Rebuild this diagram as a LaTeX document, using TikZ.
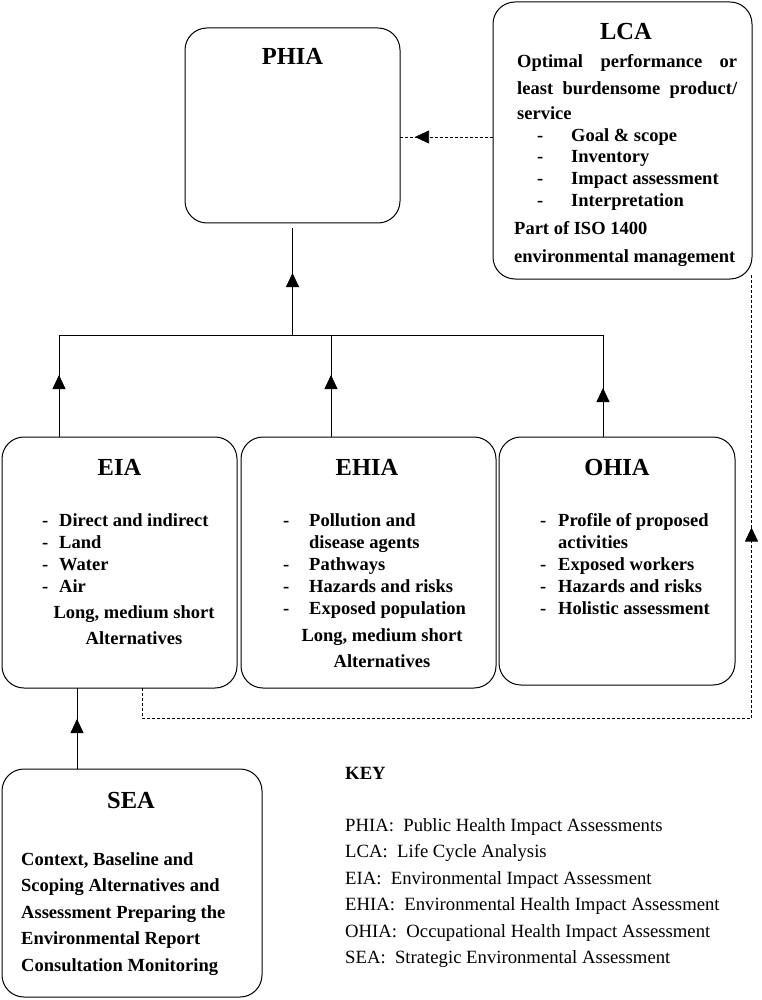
\documentclass[tikz,border=0pt]{standalone}
\usepackage{fontspec}
\setmainfont{Liberation Serif}
\usetikzlibrary{arrows.meta,decorations.markings}
\tikzset{
  box/.style={draw, line width=1pt, rounded corners=22pt, inner sep=0pt, outer sep=0pt},
  conn/.style={line width=0.8pt},
  dconn/.style={line width=0.7pt, dash pattern=on 3pt off 2pt},
  midarr/.style={postaction={decorate}, decoration={markings, mark=at position #1 with {\arrow{Triangle[width=13pt,length=14pt]}}}},
  bt/.style={font=\fontsize{18.5}{22}\selectfont\bfseries, inner sep=0pt, anchor=base west},
  btc/.style={font=\fontsize{18.5}{22}\selectfont\bfseries, inner sep=0pt, anchor=base},
  ttl/.style={font=\fontsize{24.5}{28}\selectfont\bfseries, inner sep=0pt, anchor=base},
  kt/.style={font=\fontsize{18.7}{22}\selectfont, inner sep=0pt, anchor=base west},
}
\begin{document}
\begin{tikzpicture}[x=1pt,y=-1pt]
\useasboundingbox (0,0) rectangle (761,1000);
% boxes
\node[box, minimum width=215pt, minimum height=195pt] (phia) at (292.5,125.5) {};
\node[box, minimum width=259pt, minimum height=277pt] (lca) at (622.5,140.5) {};
\node[box, minimum width=235pt, minimum height=251pt] (eia) at (119.5,562.5) {};
\node[box, minimum width=255pt, minimum height=251pt] (ehia) at (368.5,562.5) {};
\node[box, minimum width=236pt, minimum height=248pt] (ohia) at (617,561) {};
\node[box, minimum width=260pt, minimum height=228pt] (sea) at (132,883) {};
% PHIA
\node[ttl] (phiat) at (292.5,65) {PHIA};
% LCA
\node[ttl] (lcat) at (626,40) {LCA};
\node[bt] (lca1) at (517,68) {\makebox[220pt][s]{Optimal\hfill performance\hfill or}};
\node[bt] (lca2) at (517,95) {\makebox[220pt][s]{least\hfill burdensome\hfill product/}};
\node[bt] (lca3) at (517,120) {service};
\node[bt] (lcad1) at (537,142) {-};
\node[bt] (lcai1) at (571,142) {Goal \& scope};
\node[bt] (lcad2) at (537,163) {-};
\node[bt] (lcai2) at (571,163) {Inventory};
\node[bt] (lcad3) at (537,185) {-};
\node[bt] (lcai3) at (571,185) {Impact assessment};
\node[bt] (lcad4) at (537,207) {-};
\node[bt] (lcai4) at (571,207) {Interpretation};
\node[bt] (lca4) at (514,235) {Part of ISO 1400};
\node[bt] (lca5) at (514,262) {environmental management};
% EIA
\node[ttl] (eiat) at (119.5,475) {EIA};
\node[bt] (eiad1) at (42,526) {-};
\node[bt] (eiai1) at (59,526) {Direct and indirect};
\node[bt] (eiad2) at (42,548) {-};
\node[bt] (eiai2) at (59,548) {Land};
\node[bt] (eiad3) at (42,570) {-};
\node[bt] (eiai3) at (59,570) {Water};
\node[bt] (eiad4) at (42,592) {-};
\node[bt] (eiai4) at (59,592) {Air};
\node[btc] (eial) at (134,618) {Long, medium short};
\node[btc] (eiaa) at (134,644) {Alternatives};
% EHIA
\node[ttl] (ehiat) at (367,475) {EHIA};
\node[bt] (ehiad1) at (283,526) {-};
\node[bt] (ehiai1) at (309,526) {Pollution and};
\node[bt] (ehiai1b) at (309,548) {disease agents};
\node[bt] (ehiad2) at (283,570) {-};
\node[bt] (ehiai2) at (309,570) {Pathways};
\node[bt] (ehiad3) at (283,592) {-};
\node[bt] (ehiai3) at (309,592) {Hazards and risks};
\node[bt] (ehiad4) at (283,614) {-};
\node[bt] (ehiai4) at (309,614) {Exposed population};
\node[btc] (ehial) at (382,641) {Long, medium short};
\node[btc] (ehiaa) at (382,667) {Alternatives};
% OHIA
\node[ttl] (ohiat) at (617,475) {OHIA};
\node[bt] (ohiad1) at (540,526) {-};
\node[bt] (ohiai1) at (558,526) {Profile of proposed};
\node[bt] (ohiai1b) at (558,548) {activities};
\node[bt] (ohiad2) at (540,570) {-};
\node[bt] (ohiai2) at (558,570) {Exposed workers};
\node[bt] (ohiad3) at (540,592) {-};
\node[bt] (ohiai3) at (558,592) {Hazards and risks};
\node[bt] (ohiad4) at (540,614) {-};
\node[bt] (ohiai4) at (558,614) {Holistic assessment};
% SEA
\node[ttl] (seat) at (131,808) {SEA};
\node[bt] (sea1) at (21,865) {Context, Baseline and};
\node[bt] (sea2) at (21,891.5) {Scoping Alternatives and};
\node[bt] (sea3) at (21,918) {Assessment Preparing the};
\node[bt] (sea4) at (21,944.5) {Environmental Report};
\node[bt] (sea5) at (21,971) {Consultation Monitoring};
% KEY
\node[kt, font=\fontsize{18.7}{22}\selectfont\bfseries] (key) at (345,779) {KEY};
\node[kt] (k1) at (345,831) {PHIA:\hspace{0.5em}Public Health Impact Assessments};
\node[kt] (k2) at (345,857) {LCA:\hspace{0.5em}Life Cycle Analysis};
\node[kt] (k3) at (345,884) {EIA:\hspace{0.5em}Environmental Impact Assessment};
\node[kt] (k4) at (345,910) {EHIA:\hspace{0.5em}Environmental Health Impact Assessment};
\node[kt] (k5) at (345,937) {OHIA:\hspace{0.5em}Occupational Health Impact Assessment};
\node[kt] (k6) at (345,963) {SEA:\hspace{0.5em}Strategic Environmental Assessment};
% connectors
\coordinate (barP) at (292.5,335);
\coordinate (barL) at (59,335);
\coordinate (barM) at (331,335);
\coordinate (barR) at (603,335);
\draw[conn] (barL) -- (barR);
\draw[conn, midarr=62pt] (barP) -- ([yshift=-5pt]phia.south);
\draw[conn, midarr=62pt] (barL |- eia.north) -- (barL);
\draw[conn, midarr=62pt] (barM |- ehia.north) -- (barM);
\draw[conn, midarr=49pt] (barR |- ohia.north) -- (barR);
\draw[conn, midarr=50pt] ([xshift=-55pt]sea.north) -- ([xshift=-42.5pt]eia.south);
\draw[dconn, midarr=78pt] ([yshift=3.5pt]lca.west) -- ([yshift=-11.5pt]phia.east);
\draw[dconn, midarr=830pt] ([xshift=22.5pt]eia.south) -- ++(0,30) -| ([xshift=-0.5pt,yshift=6pt]lca.south east);
\end{tikzpicture}
\end{document}
